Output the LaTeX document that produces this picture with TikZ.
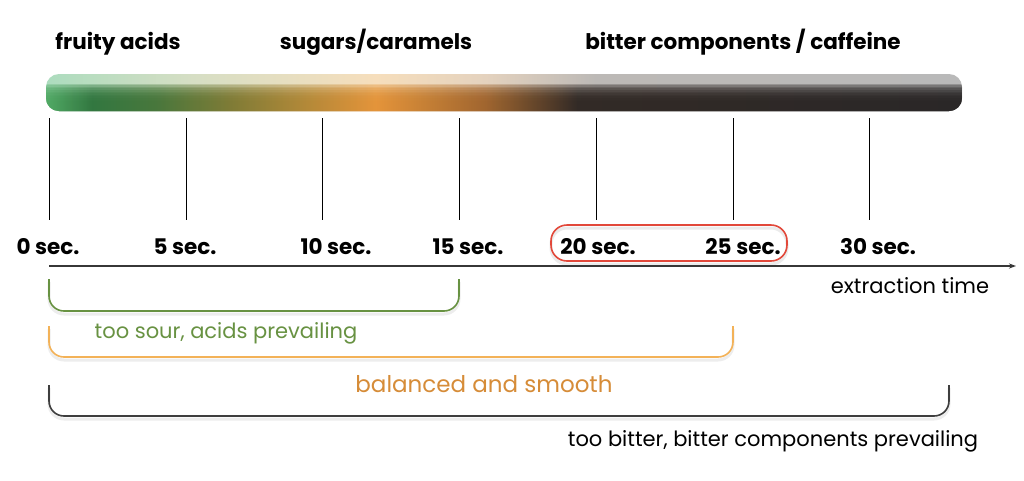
\documentclass[tikz,border=0pt]{standalone}
\usepackage{fontspec}
\setmainfont{Poppins}
\usetikzlibrary{arrows.meta}
\definecolor{sourgreen}{RGB}{104,146,66}
\definecolor{balorange}{RGB}{243,178,88}
\definecolor{baltext}{RGB}{214,140,56}
\definecolor{bitterdark}{RGB}{62,62,62}
\definecolor{hired}{RGB}{226,72,58}
\definecolor{axisgray}{RGB}{55,55,55}
\pgfdeclarehorizontalshading{bardark}{100bp}{%
 color(0bp)=(rgb,255:red,80;green,170;blue,100);
 color(25bp)=(rgb,255:red,80;green,170;blue,100);
 color(27.5bp)=(rgb,255:red,48;green,118;blue,62);
 color(31bp)=(rgb,255:red,70;green,118;blue,58);
 color(35bp)=(rgb,255:red,125;green,122;blue,52);
 color(43bp)=(rgb,255:red,228;green,148;blue,56);
 color(49bp)=(rgb,255:red,160;green,100;blue,45);
 color(54bp)=(rgb,255:red,48;green,40;blue,36);
 color(75bp)=(rgb,255:red,40;green,37;blue,37);
 color(100bp)=(rgb,255:red,40;green,37;blue,37)}
\pgfdeclarehorizontalshading{barlight}{100bp}{%
 color(0bp)=(rgb,255:red,172;green,220;blue,190);
 color(25bp)=(rgb,255:red,172;green,220;blue,190);
 color(33bp)=(rgb,255:red,214;green,222;blue,196);
 color(43bp)=(rgb,255:red,246;green,222;blue,188);
 color(49bp)=(rgb,255:red,228;green,210;blue,190);
 color(55bp)=(rgb,255:red,188;green,185;blue,182);
 color(75bp)=(rgb,255:red,185;green,185;blue,185);
 color(100bp)=(rgb,255:red,185;green,185;blue,185)}
\tikzset{
  header/.style={font=\fontsize{21.5}{25}\selectfont\bfseries, anchor=base},
  seclabel/.style={font=\fontsize{21.5}{25}\selectfont\bfseries, anchor=base},
  tickline/.style={black, line width=0.9pt},
  bracket/.style={line width=1.6pt, rounded corners=15pt},
  bshadow/.style={line width=3pt, rounded corners=15pt, black, opacity=0.07},
  note/.style={font=\fontsize{21}{25}\selectfont, anchor=base},
}
\begin{document}
\begin{tikzpicture}[x=1pt,y=-1pt]
\useasboundingbox[fill=white] (0,0) rectangle (1024,480);
% headers
\node[header] (hfruit) at (118,49) {fruity acids};
\node[header] (hsugar) at (376,49) {sugars/caramels};
\node[header] (hbitter) at (743,49) {bitter components / caffeine};
% gradient bar
\shade[shading=barlight, rounded corners=13pt] (46,74) rectangle (962,111);
\begin{scope}
  \clip[rounded corners=13pt] (46,74) rectangle (962,111);
  \foreach \k in {0,...,11}{
    \shade[shading=bardark, fill opacity=0.25, opacity=0.25] (46,{84+1.6*\k}) rectangle (962,111);
  }
\end{scope}
% ticks
\foreach \i/\x in {0/49,1/186,2/322,3/459,4/596,5/733,6/869}{
  \coordinate (ttop\i) at (\x,118);
  \coordinate (tbot\i) at (\x,220);
  \draw[tickline] (ttop\i) -- (tbot\i);
}
% second labels
\node[seclabel] (s0) at (48,254) {0 sec.};
\node[seclabel] (s5) at (185,254) {5 sec.};
\node[seclabel] (s10) at (336,254) {10 sec.};
\node[seclabel] (s15) at (468,254) {15 sec.};
\node[seclabel] (s20) at (598,254) {20 sec.};
\node[seclabel] (s25) at (743,254) {25 sec.};
\node[seclabel] (s30) at (878,254) {30 sec.};
% highlight
\draw[black, opacity=0.08, line width=3pt, rounded corners=16pt] (551,228) rectangle (787,264);
\draw[hired, line width=1.6pt, rounded corners=16pt] (551,225) rectangle (787,261);
% axis
\coordinate (axs) at (49,266);
\coordinate (axe) at (1016,266);
\draw[axisgray, line width=1.3pt, -{Stealth[length=7pt,width=5pt]}] (axs) -- (axe);
\node[note] (ext) at (910,293) {extraction time};
% brackets
\draw[bshadow] (49,282) -- (49,314) -- (459,314) -- (459,282);
\draw[bracket, sourgreen] (49,279) -- (49,311) -- (459,311) -- (459,279);
\node[note, text=sourgreen] (tsour) at (226,338) {too sour, acids prevailing};
\draw[bshadow] (49,329) -- (49,360) -- (733,360) -- (733,329);
\draw[bracket, balorange] (49,326) -- (49,357) -- (733,357) -- (733,326);
\node[note, text=baltext, font=\fontsize{23}{27}\selectfont] (tbal) at (484,392) {balanced and smooth};
\draw[bshadow] (49,388) -- (49,419) -- (949,419) -- (949,388);
\draw[bracket, bitterdark] (49,385) -- (49,416) -- (949,416) -- (949,385);
\node[note, text=black] (tbit) at (773,446) {too bitter, bitter components prevailing};
\end{tikzpicture}
\end{document}
